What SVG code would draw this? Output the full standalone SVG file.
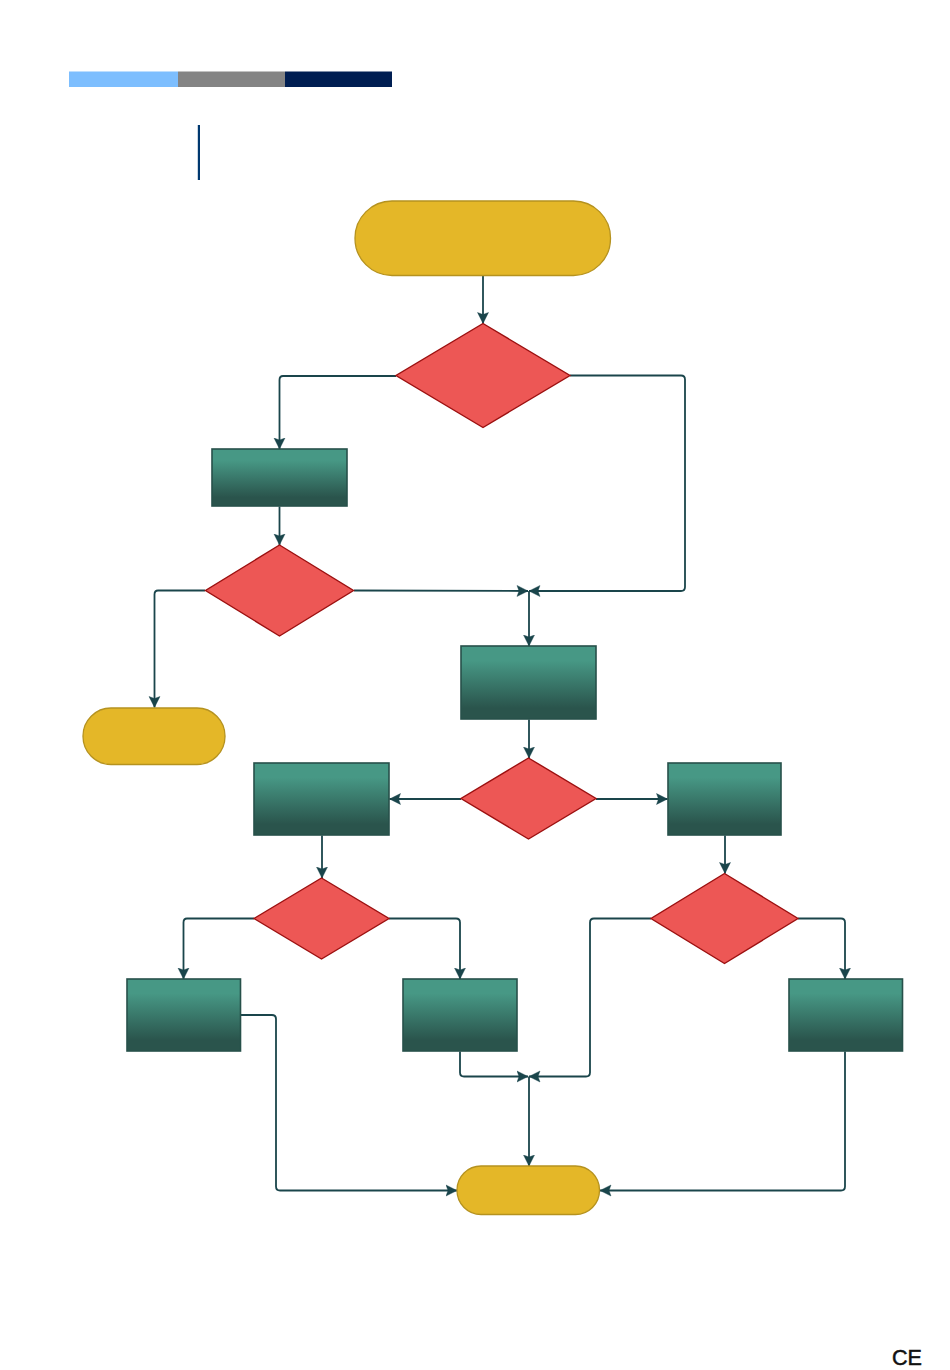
<svg xmlns="http://www.w3.org/2000/svg" width="950" height="1370" viewBox="0 0 950 1370">
<style>
.t{fill:#e4b728;stroke:#b5921f;stroke-width:1.3}
.d{fill:#ed5755;stroke:#9c1010;stroke-width:1.4}
.p{fill:url(#g);stroke:#27504a;stroke-width:1.6}
.c{fill:none;stroke:#1a454b;stroke-width:1.8;marker-end:url(#a)}
</style>
<defs>
<linearGradient id="g" x1="0" y1="0" x2="0" y2="1"><stop offset="0.2" stop-color="#479885"/><stop offset="0.85" stop-color="#2a544c"/></linearGradient>
<marker id="a" markerUnits="userSpaceOnUse" markerWidth="13" markerHeight="13" refX="11.500" refY="6.500" orient="auto"><path d="M0.500 1L11.500 6.500L0.500 12L2.500 6.500Z" fill="#1a454b" stroke="#1a454b" stroke-width="0.4"/></marker>
</defs>
<rect width="950" height="1370" fill="#fff"/>
<g id="header">
<rect x="69" y="71.500" width="109" height="15.500" fill="#7dbefe"/>
<rect x="178" y="71.500" width="107" height="15.500" fill="#848484"/>
<rect x="285" y="71.500" width="107" height="15.500" fill="#001e52"/>
<rect x="197.800" y="125" width="2.200" height="55" fill="#00386f"/>
</g>
<g id="connectors">
<path class="c" d="M483 275.500V323.500"/>
<path class="c" d="M396 376H283Q279.500 376 279.500 380V449"/>
<path class="c" d="M570 375.500H681Q685 375.500 685 379.500V587Q685 591 681 591H529"/>
<path class="c" d="M279.500 506.500V545"/>
<path class="c" d="M354 590.500L528 591"/>
<path class="c" d="M205 590.500H158Q154.500 590.500 154.500 594.500V707.500"/>
<path class="c" d="M529 591V646"/>
<path class="c" d="M529 719.500V758"/>
<path class="c" d="M461 799H389.500"/>
<path class="c" d="M596 799H667.500"/>
<path class="c" d="M322 835.500V878"/>
<path class="c" d="M725 835.500V873.500"/>
<path class="c" d="M254 918.500H187Q183.500 918.500 183.500 922.500V979"/>
<path class="c" d="M389 918.500H456Q460 918.500 460 922.500V979"/>
<path class="c" d="M651 918.500H594Q590 918.500 590 922.500V1072.500Q590 1076.500 586 1076.500H529"/>
<path class="c" d="M798 918.500H841Q845 918.500 845 922.500V979"/>
<path class="c" d="M460 1051.500V1072.500Q460 1076.500 464 1076.500H528"/>
<path class="c" d="M241 1015H272Q276 1015 276 1019V1186.500Q276 1190.500 280 1190.500H457"/>
<path class="c" d="M845 1051.500V1186.500Q845 1190.500 841 1190.500H600"/>
<path class="c" d="M529 1076.500V1166"/>
</g>
<g id="start"><rect class="t" x="355" y="201" width="255.500" height="74.500" rx="37" ry="37"/></g>
<g id="decision1"><polygon class="d" points="483,323.500 570,375.500 483,427.500 396,375.500"/></g>
<g id="process1"><rect class="p" x="212" y="449" width="135" height="57"/></g>
<g id="decision2"><polygon class="d" points="279.500,545 353.500,590.500 279.500,636 205.500,590.500"/></g>
<g id="end1"><rect class="t" x="83" y="708" width="142" height="56.500" rx="28" ry="28"/></g>
<g id="process2"><rect class="p" x="461" y="646" width="135" height="73"/></g>
<g id="decision3"><polygon class="d" points="528.500,758 596,798.500 528.500,839 461,798.500"/></g>
<g id="process3"><rect class="p" x="254" y="763" width="135" height="72"/></g>
<g id="process4"><rect class="p" x="668" y="763" width="113" height="72"/></g>
<g id="decision4"><polygon class="d" points="321.500,878 389,918.500 321.500,959 254,918.500"/></g>
<g id="decision5"><polygon class="d" points="724.500,873.500 798,918.500 724.500,963.500 651,918.500"/></g>
<g id="process5"><rect class="p" x="127" y="979" width="113.500" height="72"/></g>
<g id="process6"><rect class="p" x="403" y="979" width="114" height="72"/></g>
<g id="process7"><rect class="p" x="789" y="979" width="113.500" height="72"/></g>
<g id="end2"><rect class="t" x="457" y="1166" width="142.500" height="48.500" rx="24" ry="24"/></g>
<text x="907" y="1365" font-family="Liberation Sans, sans-serif" font-size="22" text-anchor="middle" fill="#111" stroke="#111" stroke-width="0.5" textLength="30" lengthAdjust="spacingAndGlyphs">CE</text>
</svg>
